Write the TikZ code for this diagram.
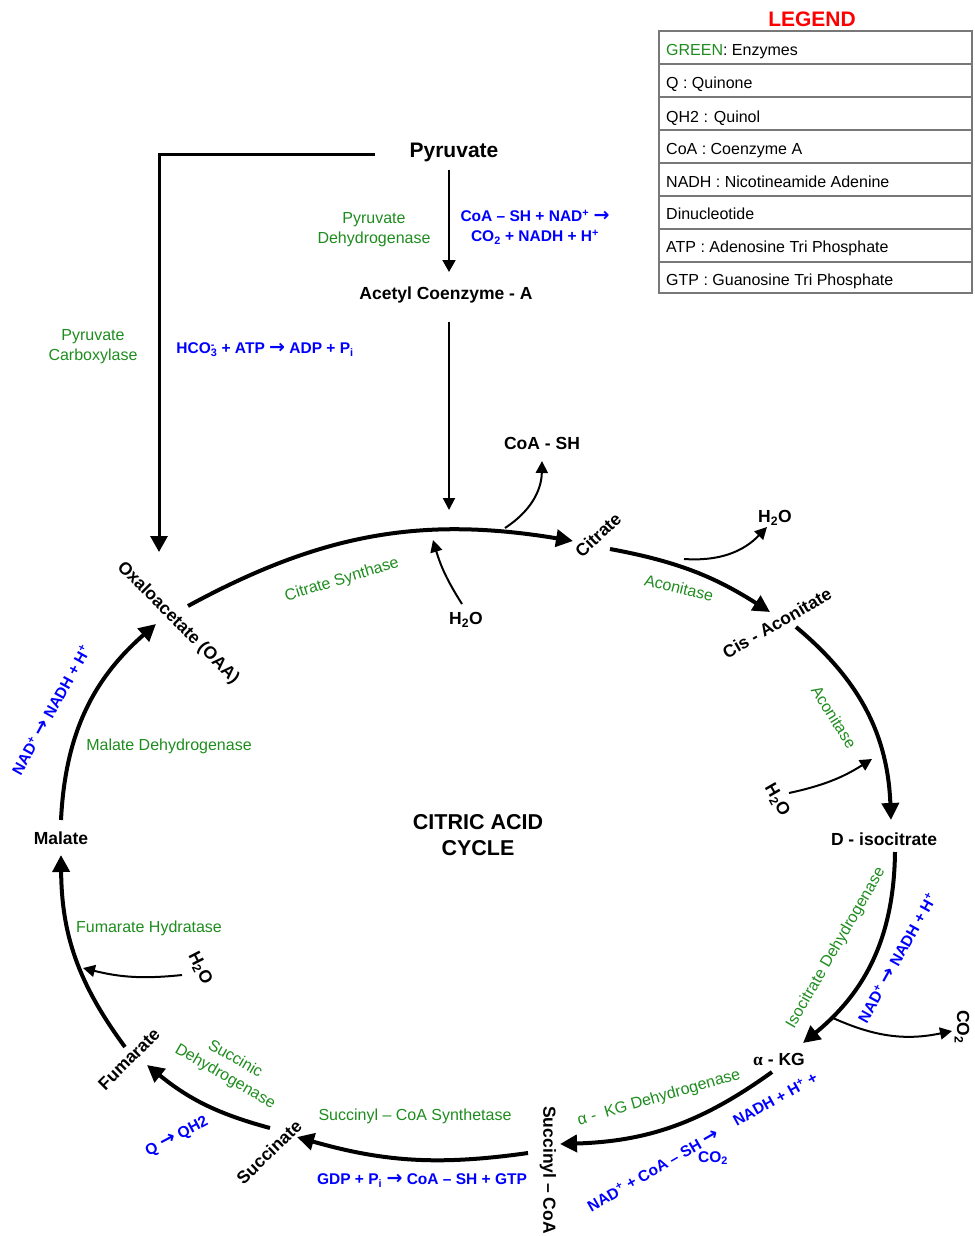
\documentclass[tikz,border=0pt]{standalone}
\usepackage{fontspec}
\setmainfont{Liberation Sans}
\newfontfamily\djv{DejaVu Sans}
\newfontfamily\serifa{Liberation Serif}
\usetikzlibrary{arrows.meta}
\definecolor{enz}{RGB}{30,140,30}
\definecolor{chem}{RGB}{0,0,255}
\definecolor{lgd}{RGB}{120,120,120}
\newcommand\rarr{{\djv\bfseries\fontsize{19}{19}\selectfont →}}
\newcommand\sub[1]{\textsubscript{#1}}
\newcommand\sups[1]{\textsuperscript{#1}}
\begin{document}
\begin{tikzpicture}[x=1pt,y=-1pt,
  mol/.style={font=\fontsize{17.5}{21}\selectfont\bfseries, inner sep=0pt},
  enzyme/.style={font=\fontsize{16}{20}\selectfont, text=enz, inner sep=0pt, align=center},
  rxn/.style={font=\fontsize{15.5}{20}\selectfont\bfseries, text=chem, inner sep=0pt, align=center},
  lgdtext/.style={font=\fontsize{16}{19}\selectfont, inner sep=0pt, anchor=base west},
  main/.style={line width=4pt, -{Triangle[length=17pt,width=17pt]}},
  side/.style={line width=2pt, -{Triangle[length=12pt,width=12pt]}},
]
\useasboundingbox (0,0) rectangle (974,1236);

% Legend
\node[font=\fontsize{21}{25}\selectfont\bfseries, text=red] (legend) at (812,19) {LEGEND};
\draw[lgd, line width=2pt] (659,31) rectangle (972,293);
\foreach \yy in {64,97,130,163,196,229,262} {\draw[lgd, line width=2pt] (659,\yy) -- (972,\yy);}
\node[lgdtext] (l1) at (666,56) {\textcolor{enz}{GREEN}: Enzymes};
\node[lgdtext] (l2) at (666,89) {Q : Quinone};
\node[lgdtext] (l3) at (666,122) {QH2 : Quinol};
\node[lgdtext] (l4) at (666,154) {CoA : Coenzyme A};
\node[lgdtext] (l5) at (666,187) {NADH : Nicotineamide Adenine};
\node[lgdtext] (l6) at (666,219) {Dinucleotide};
\node[lgdtext] (l7) at (666,252) {ATP : Adenosine Tri Phosphate};
\node[lgdtext] (l8) at (666,285) {GTP : Guanosine Tri Phosphate};

% Top
\node[font=\fontsize{21}{25}\selectfont\bfseries, inner sep=0pt] (pyr) at (454,152) {Pyruvate};
\node[mol] (acoa) at (446,295) {Acetyl Coenzyme - A};
\node[enzyme] (pdh) at (374,230) {Pyruvate\\Dehydrogenase};
\node[rxn] (pdhr) at (535,227) {CoA -- SH + NAD\sups{+} \rarr\\ CO\sub{2} + NADH + H\sups{+}};
\node[enzyme] (pc) at (93,347) {Pyruvate\\Carboxylase};
\node[rxn] (pcr) at (265,350) {HCO\rlap{\sups{-}}\sub{3} + ATP \rarr{} ADP + P\sub{i}};

\coordinate (pyrA) at (449,170);
\coordinate (acoaA) at (449,272);
\coordinate (acoaB) at (449,322);
\coordinate (cycTop) at (449,510);
\coordinate (pcS) at (375,154);
\coordinate (pcC) at (159,154);
\coordinate (pcE) at (159,552);
\draw[line width=2pt, -{Triangle[length=12pt,width=13pt]}] (pyrA) -- (acoaA);
\draw[line width=2pt, -{Triangle[length=12pt,width=12pt]}] (acoaB) -- (cycTop);
\draw[line width=3pt, -{Triangle[length=16pt,width=17pt]}] (pcS) -- (pcC) -- (pcE);

% Cycle labels
\node[mol] (coash) at (542,443) {CoA - SH};
\node[mol] (h2o1) at (466,620) {H\sub{2}O};
\node[enzyme, rotate=17] (cs) at (342,580) {Citrate Synthase};
\node[mol, rotate=43] (cit) at (598,535) {Citrate};
\node[mol] (h2o2) at (775,518) {H\sub{2}O};
\node[enzyme, rotate=-14] (acon1) at (679,588) {Aconitase};
\node[mol, rotate=30] (cisacon) at (777,623) {Cis - Aconitate};
\node[enzyme, rotate=-58] (acon2) at (834,717) {Aconitase};
\node[mol, rotate=-60] (h2o3) at (777,800) {H\sub{2}O};
\node[mol] (iso) at (884,839) {D - isocitrate};
\node[enzyme, rotate=60] (idh) at (836,948) {Isocitrate Dehydrogenase};
\node[rxn, rotate=61] (idhr) at (897,958) {NAD\sups{+} \rarr{} NADH + H\sups{+}};
\node[mol, rotate=-90] (co2a) at (962,1027) {CO\sub{2}};
\node[mol] (akg) at (779,1059) {{\serifa\bfseries α} - KG};
\node[enzyme, rotate=16] (akgdh) at (659,1098) {α -\ \ KG Dehydrogenase};
\node[rxn, rotate=29] (akgr1) at (775,1099) {NADH + H\sups{+} +};
\node[rxn, rotate=30] (akgr2) at (653,1170) {NAD\sups{+} + CoA -- SH \rarr};
\node[rxn] (co2b) at (713,1158) {CO\sub{2}};
\node[mol, rotate=-90] (succoa) at (548,1170) {Succinyl -- CoA};
\node[enzyme] (scs) at (415,1116) {Succinyl -- CoA Synthetase};
\node[rxn] (scsr) at (422,1181) {GDP + P\sub{i} \rarr{} CoA -- SH + GTP};
\node[mol, rotate=44] (succ) at (269,1152) {Succinate};
\node[enzyme, rotate=-30] (sdh) at (230,1068) {Succinic\\Dehydrogenase};
\node[rxn, rotate=28] (sdhr) at (177,1137) {Q \rarr{} QH2};
\node[mol, rotate=45] (fum) at (129,1059) {Fumarate};
\node[enzyme] (fh) at (149,928) {Fumarate Hydratase};
\node[mol, rotate=-63] (h2o4) at (200,968) {H\sub{2}O};
\node[mol] (mal) at (61,838) {Malate};
\node[enzyme] (mdh) at (169,746) {Malate Dehydrogenase};
\node[rxn, rotate=61] (mdhr) at (51,710) {NAD\sups{+} \rarr{} NADH + H\sups{+}};
\node[mol, rotate=-45] (oaa) at (178,623) {Oxaloacetate (OAA)};
\node[font=\fontsize{21.5}{26}\selectfont\bfseries, align=center, inner sep=0pt] (cac) at (478,835) {CITRIC ACID\\CYCLE};

% Arc endpoints
\coordinate (a1s) at (188,606); \coordinate (a1e) at (573,541);
\coordinate (a2s) at (610,549); \coordinate (a2e) at (770,612);
\coordinate (a3s) at (796,627); \coordinate (a3e) at (891,820);
\coordinate (a4s) at (895,852); \coordinate (a4e) at (803,1043);
\coordinate (a5s) at (772,1072); \coordinate (a5e) at (560,1144);
\coordinate (a6s) at (528,1153); \coordinate (a6e) at (297,1137);
\coordinate (a7s) at (270,1128); \coordinate (a7e) at (147,1065);
\coordinate (a8s) at (125,1047); \coordinate (a8e) at (61,855);
\coordinate (a9s) at (61,820); \coordinate (a9e) at (156,624);

\draw[main] (a1s) to[bend left=19] (a1e);
\draw[main] (a2s) to[bend left=11] (a2e);
\draw[main] (a3s) to[bend left=24] (a3e);
\draw[main] (a4s) to[bend left=25] (a4e);
\draw[main] (a5s) to[bend left=17] (a5e);
\draw[main] (a6s) to[bend left=12] (a6e);
\draw[main] (a7s) to[bend left=12] (a7e);
\draw[main] (a8s) to[bend left=18] (a8e);
\draw[main] (a9s) to[bend left=23] (a9e);

% Side branches
\coordinate (b1s) at (505,528); \coordinate (b1e) at (542,461);
\coordinate (b2s) at (462,604); \coordinate (b2e) at (433,540);
\coordinate (b3s) at (684,559); \coordinate (b3e) at (767,527);
\coordinate (b4s) at (789,793); \coordinate (b4e) at (872,759);
\coordinate (b5s) at (833,1018); \coordinate (b5e) at (952,1031);
\coordinate (b6s) at (182,975); \coordinate (b6e) at (83,968);

\draw[side] (b1s) to[bend right=28] (b1e);
\draw[side] (b2s) to[bend left=8] (b2e);
\draw[side] (b3s) to[bend right=25] (b3e);
\draw[side] (b4s) to[bend right=10] (b4e);
\draw[side] (b5s) to[bend right=18] (b5e);
\draw[side] (b6s) to[bend left=10] (b6e);
\end{tikzpicture}
\end{document}
